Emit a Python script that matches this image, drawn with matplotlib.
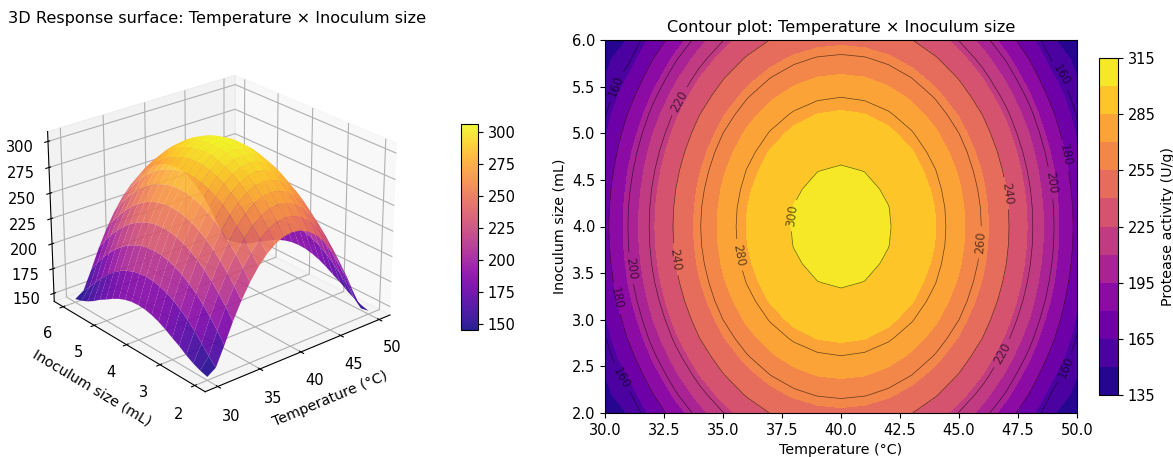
import numpy as np
import matplotlib
matplotlib.use("Agg")
import matplotlib.pyplot as plt

temperature = [30, 31, 32, 33, 34, 35, 36, 37, 38, 39, 40, 41, 42, 43, 44, 45, 46, 47, 48, 49, 50]
inoculum = [2.0, 2.2, 2.4, 2.6, 2.8, 3.0, 3.2, 3.4, 3.6, 3.8, 4.0, 4.2, 4.4, 4.6, 4.8, 5.0, 5.2, 5.4, 5.6, 5.8, 6.0]
# Protease activity estimated from the contour plot; rows follow inoculum, columns follow temperature
activity = [
    [145.0,150.5,168.8,188.3,205.2,219.5,231.2,240.3,246.8,250.7,252.0,250.7,246.8,240.3,231.2,219.5,205.2,188.3,168.8,150.5,145.0],
    [147.0,157.5,179.1,198.6,215.5,229.8,241.5,250.6,257.1,261.0,262.3,261.0,257.1,250.6,241.5,229.8,215.5,198.6,179.1,157.5,147.0],
    [150.0,166.1,188.2,207.7,224.6,238.9,250.6,259.7,266.2,270.1,271.4,270.1,266.2,259.7,250.6,238.9,224.6,207.7,188.2,166.1,150.0],
    [154.0,174.2,196.3,215.8,232.7,247.0,258.7,267.8,274.3,278.2,279.5,278.2,274.3,267.8,258.7,247.0,232.7,215.8,196.3,174.2,154.0],
    [159.0,181.3,203.4,222.9,239.8,254.1,265.8,274.9,281.4,285.3,286.6,285.3,281.4,274.9,265.8,254.1,239.8,222.9,203.4,181.3,159.0],
    [163.0,187.2,209.3,228.8,245.7,260.0,271.7,280.8,287.3,291.2,292.5,291.2,287.3,280.8,271.7,260.0,245.7,228.8,209.3,187.2,163.0],
    [167.4,192.1,214.2,233.7,250.6,264.9,276.6,285.7,292.2,296.1,297.4,296.1,292.2,285.7,276.6,264.9,250.6,233.7,214.2,192.1,167.4],
    [171.1,195.8,217.9,237.4,254.3,268.6,280.3,289.4,295.9,299.8,301.1,299.8,295.9,289.4,280.3,268.6,254.3,237.4,217.9,195.8,171.1],
    [173.8,198.5,220.6,240.1,257.0,271.3,283.0,292.1,298.6,302.5,303.8,302.5,298.6,292.1,283.0,271.3,257.0,240.1,220.6,198.5,173.8],
    [175.5,200.2,222.3,241.8,258.7,273.0,284.7,293.8,300.3,304.2,305.5,304.2,300.3,293.8,284.7,273.0,258.7,241.8,222.3,200.2,175.5],
    [176.0,200.7,222.8,242.3,259.2,273.5,285.2,294.3,300.8,304.7,306.0,304.7,300.8,294.3,285.2,273.5,259.2,242.3,222.8,200.7,176.0],
    [175.5,200.2,222.3,241.8,258.7,273.0,284.7,293.8,300.3,304.2,305.5,304.2,300.3,293.8,284.7,273.0,258.7,241.8,222.3,200.2,175.5],
    [173.8,198.5,220.6,240.1,257.0,271.3,283.0,292.1,298.6,302.5,303.8,302.5,298.6,292.1,283.0,271.3,257.0,240.1,220.6,198.5,173.8],
    [171.1,195.8,217.9,237.4,254.3,268.6,280.3,289.4,295.9,299.8,301.1,299.8,295.9,289.4,280.3,268.6,254.3,237.4,217.9,195.8,171.1],
    [167.4,192.1,214.2,233.7,250.6,264.9,276.6,285.7,292.2,296.1,297.4,296.1,292.2,285.7,276.6,264.9,250.6,233.7,214.2,192.1,167.4],
    [163.0,187.2,209.3,228.8,245.7,260.0,271.7,280.8,287.3,291.2,292.5,291.2,287.3,280.8,271.7,260.0,245.7,228.8,209.3,187.2,163.0],
    [159.0,181.3,203.4,222.9,239.8,254.1,265.8,274.9,281.4,285.3,286.6,285.3,281.4,274.9,265.8,254.1,239.8,222.9,203.4,181.3,159.0],
    [154.0,174.2,196.3,215.8,232.7,247.0,258.7,267.8,274.3,278.2,279.5,278.2,274.3,267.8,258.7,247.0,232.7,215.8,196.3,174.2,154.0],
    [150.0,166.1,188.2,207.7,224.6,238.9,250.6,259.7,266.2,270.1,271.4,270.1,266.2,259.7,250.6,238.9,224.6,207.7,188.2,166.1,150.0],
    [147.0,157.5,179.1,198.6,215.5,229.8,241.5,250.6,257.1,261.0,262.3,261.0,257.1,250.6,241.5,229.8,215.5,198.6,179.1,157.5,147.0],
    [145.0,150.5,168.8,188.3,205.2,219.5,231.2,240.3,246.8,250.7,252.0,250.7,246.8,240.3,231.2,219.5,205.2,188.3,168.8,150.5,145.0],
]
fill_levels = [135, 150, 165, 180, 195, 210, 225, 240, 255, 270, 285, 300, 315]
line_levels = [160, 180, 200, 220, 240, 260, 280, 300]
surface_ticks = [150, 175, 200, 225, 250, 275, 300]
fill_ticks = [135, 165, 195, 225, 255, 285, 315]

plt.rcParams["xtick.labelsize"] = 10.5
plt.rcParams["ytick.labelsize"] = 10.5
plt.rcParams["axes.labelsize"] = 10.3

W, H = 1173, 457
def box(x0, y0, x1, y1):
    return [x0 / W, 1 - y1 / H, (x1 - x0) / W, (y1 - y0) / H]

T, I = np.meshgrid(temperature, inoculum)
Z = np.array(activity)

fig = plt.figure(figsize=(W / 100, H / 100), dpi=100)

ax3 = fig.add_axes(box(16, 43, 416, 416), projection="3d")
surf = ax3.plot_surface(T, I, Z, cmap="plasma", linewidth=0, antialiased=True, alpha=0.9,
                        rstride=1, cstride=1, vmin=Z.min(), vmax=Z.max())
ax3.view_init(elev=25, azim=-130)
ax3.set_box_aspect((4, 4, 3.1), zoom=1.02)
ax3.set_xlabel("Temperature (°C)")
ax3.set_ylabel("Inoculum size (mL)")
ax3.set_xticks([30, 35, 40, 45, 50])
ax3.set_yticks([2, 3, 4, 5, 6])
ax3.set_zticks(surface_ticks)
ax3.tick_params(axis="z", labelsize=10.5)
fig.text(8 / W, 1 - 19 / H, "3D Response surface: Temperature × Inoculum size",
         fontsize=11.6, ha="left", va="center")
cax1 = fig.add_axes(box(461, 124, 478, 330))
fig.colorbar(surf, cax=cax1, ticks=surface_ticks)

ax2 = fig.add_axes(box(605, 40, 1077, 413))
cf = ax2.contourf(T, I, Z, levels=fill_levels, cmap="plasma")
cs = ax2.contour(T, I, Z, levels=line_levels, colors="k", linewidths=0.5, alpha=0.6)
label_spots = [(30.5, 5.5), (33.1, 5.35), (37.92, 4.12), (33.1, 3.65), (35.8, 3.7), (31.1, 3.55),
               (30.5, 3.23), (30.8, 2.4), (46.9, 2.63), (45.9, 3.83), (47.1, 4.36), (48.9, 4.47),
               (49.5, 4.76), (49.2, 5.6), (49.5, 2.49)]
ax2.clabel(cs, inline=True, fontsize=8.5, fmt="%d", manual=label_spots)
ax2.set_title("Contour plot: Temperature × Inoculum size", fontsize=11.6)
ax2.set_xlabel("Temperature (°C)")
ax2.set_ylabel("Inoculum size (mL)")
cax2 = fig.add_axes(box(1099, 58, 1118, 395))
cb2 = fig.colorbar(cf, cax=cax2, ticks=fill_ticks)
cb2.set_label("Protease activity (U/g)")

fig.savefig("out.png", dpi=100)
